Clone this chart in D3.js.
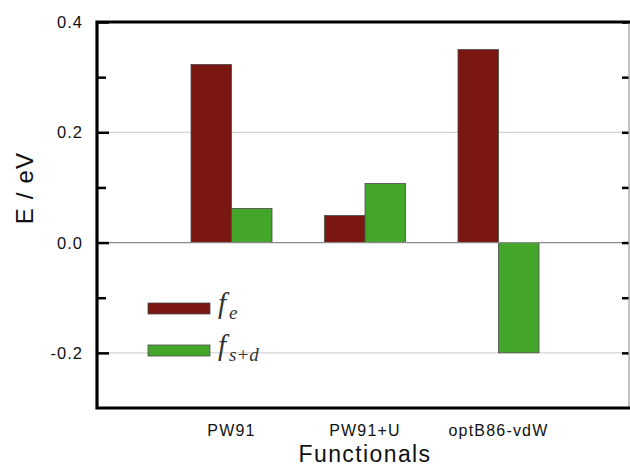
<!DOCTYPE html>
<html>
<head>
<meta charset="utf-8">
<script src="https://cdn.jsdelivr.net/npm/d3@7"></script>
<style>
  body { margin: 0; background: #fff; }
</style>
</head>
<body>
<div id="chart"></div>
<script>

// data
var categories = ["PW91", "PW91+U", "optB86-vdW"];
var fe  = [0.323, 0.049, 0.350];
var fsd = [0.062, 0.107, -0.200];
var yTicksMajor = [0.4, 0.2, 0.0, -0.2];
var yTicksMinor = [0.3, 0.1, -0.1];
var gridValues = [0.2, -0.2];

var series = [
  {key: "fe", values: fe, color: "#7a1710"},
  {key: "fsd", values: fsd, color: "#43a62b"}
];

// dimensions of the plot frame
var width = 630, height = 467;
var plot = {left: 97, top: 22, right: 629, bottom: 408};
var sans = "Arial, 'Liberation Sans', sans-serif";

var svg = d3.select("#chart")
  .append("svg")
    .attr("width", width)
    .attr("height", height)
    .style("font-family", sans);

// scales
var x = d3.scalePoint()
  .domain(categories)
  .range([98, 632])
  .padding(1);

var xSub = d3.scaleBand()
  .domain(series.map(function(s) { return s.key; }))
  .range([-40.5, 40.5]);

var y = d3.scaleLinear()
  .domain([-0.3, 0.4])
  .range([plot.bottom, plot.top]);

// grid lines
svg.selectAll(".grid")
  .data(gridValues)
  .enter().append("line")
    .attr("x1", plot.left).attr("x2", plot.right)
    .attr("y1", function(d) { return y(d); })
    .attr("y2", function(d) { return y(d); })
    .attr("stroke", "#d4d4d4")
    .attr("stroke-width", 1.2);

// bars
series.forEach(function(s) {
  svg.selectAll(".bar-" + s.key)
    .data(s.values)
    .enter().append("rect")
      .attr("x", function(d, i) { return x(categories[i]) + xSub(s.key); })
      .attr("y", function(d) { return y(Math.max(0, d)); })
      .attr("width", xSub.bandwidth())
      .attr("height", function(d) { return Math.abs(y(d) - y(0)); })
      .attr("fill", s.color)
      .attr("stroke", "#4a4a4a")
      .attr("stroke-width", 0.8);
});

// zero line
svg.append("line")
  .attr("x1", plot.left).attr("x2", plot.right)
  .attr("y1", y(0)).attr("y2", y(0))
  .attr("stroke", "#8a8a8a")
  .attr("stroke-width", 1.2);

// left axis (ticks inward)
var yAxisL = svg.append("g")
  .attr("transform", "translate(" + plot.left + ",0)")
  .call(d3.axisRight(y).tickValues(yTicksMajor).tickSize(12).tickFormat(""));
yAxisL.select(".domain").remove();
yAxisL.selectAll("line").attr("stroke", "#000").attr("stroke-width", 2.5);

var yAxisLMinor = svg.append("g")
  .attr("transform", "translate(" + plot.left + ",0)")
  .call(d3.axisRight(y).tickValues(yTicksMinor).tickSize(9).tickFormat(""));
yAxisLMinor.select(".domain").remove();
yAxisLMinor.selectAll("line").attr("stroke", "#000").attr("stroke-width", 2.5);

// right axis (ticks inward)
var yAxisR = svg.append("g")
  .attr("transform", "translate(" + plot.right + ",0)")
  .call(d3.axisLeft(y).tickValues(yTicksMajor.concat(yTicksMinor)).tickSize(7).tickFormat(""));
yAxisR.select(".domain").remove();
yAxisR.selectAll("line").attr("stroke", "#000").attr("stroke-width", 2.5);

// tick labels (plain hyphen for minus, like the original)
svg.selectAll(".ylab")
  .data(yTicksMajor)
  .enter().append("text")
    .attr("x", 83)
    .attr("y", function(d) { return y(d) + 6; })
    .attr("text-anchor", "end")
    .attr("font-size", 16.5)
    .attr("letter-spacing", 1)
    .attr("fill", "#111")
    .text(function(d) { return d.toFixed(1); });

svg.selectAll(".xlab")
  .data(categories)
  .enter().append("text")
    .attr("x", function(d) { return x(d); })
    .attr("y", 436)
    .attr("text-anchor", "middle")
    .attr("font-size", 16)
    .attr("letter-spacing", 1.2)
    .attr("fill", "#111")
    .text(function(d) { return d; });

// frame
svg.append("line")
  .attr("x1", plot.right).attr("x2", plot.right)
  .attr("y1", plot.top).attr("y2", plot.bottom)
  .attr("stroke", "#9a9a9a").attr("stroke-width", 1.2);
svg.append("path")
  .attr("d", "M" + width + "," + plot.top + "H" + plot.left + "V" + plot.bottom + "H" + width)
  .attr("fill", "none")
  .attr("stroke", "#000")
  .attr("stroke-width", 3.2);

// axis titles
svg.append("text")
  .attr("transform", "translate(33," + ((plot.top + plot.bottom) / 2 - 27) + ") rotate(-90)")
  .attr("text-anchor", "middle")
  .attr("font-size", 24)
  .attr("letter-spacing", 1.2)
  .attr("fill", "#111")
  .text("E / eV");

svg.append("text")
  .attr("x", 365)
  .attr("y", 462)
  .attr("text-anchor", "middle")
  .attr("font-size", 23)
  .attr("letter-spacing", 1.4)
  .attr("fill", "#111")
  .text("Functionals");

// legend
var legendLabels = [["f", "e"], ["f", "s+d"]];
var legend = svg.selectAll(".legend")
  .data(series)
  .enter().append("g")
    .attr("transform", function(d, i) { return "translate(148," + (303 + i * 42) + ")"; });

legend.append("rect")
  .attr("width", 62)
  .attr("height", 11)
  .attr("fill", function(d) { return d.color; })
  .attr("stroke", "#4a4a4a")
  .attr("stroke-width", 0.8);

var lt = legend.append("text")
  .attr("x", 70)
  .attr("y", 10)
  .style("font-family", "'Liberation Serif', 'Times New Roman', serif")
  .style("font-style", "italic")
  .attr("fill", "#333");
lt.append("tspan")
  .attr("font-size", 29)
  .text(function(d, i) { return legendLabels[i][0]; });
lt.append("tspan")
  .attr("font-size", 19)
  .attr("dx", 3)
  .attr("dy", 6)
  .text(function(d, i) { return legendLabels[i][1]; });

</script>
</body>
</html>
